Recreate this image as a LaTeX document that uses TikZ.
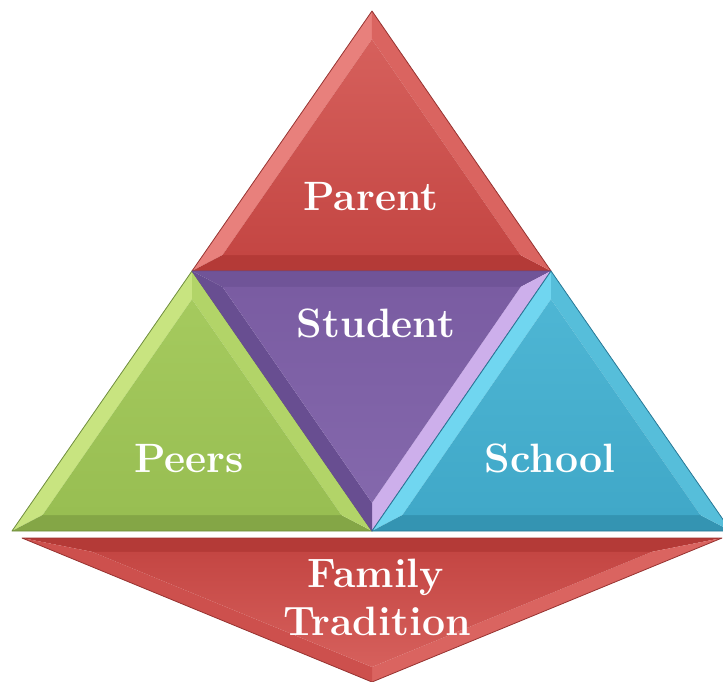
\documentclass[tikz,border=0pt]{standalone}
\usetikzlibrary{calc}
\definecolor{redbase}{RGB}{205,80,77}
\definecolor{redtop}{RGB}{214,96,92}
\definecolor{redbot}{RGB}{196,70,67}
\definecolor{redlight}{RGB}{232,128,124}
\definecolor{redmid}{RGB}{218,100,96}
\definecolor{reddark}{RGB}{180,58,55}
\definecolor{redline}{RGB}{150,50,48}
\definecolor{purtop}{RGB}{122,92,162}
\definecolor{purbot}{RGB}{132,104,172}
\definecolor{purlight}{RGB}{205,175,235}
\definecolor{purmid}{RGB}{112,84,152}
\definecolor{purdark}{RGB}{104,78,145}
\definecolor{grntop}{RGB}{165,202,94}
\definecolor{grnbot}{RGB}{152,190,82}
\definecolor{grnlight}{RGB}{200,228,128}
\definecolor{grnmid}{RGB}{178,212,104}
\definecolor{grndark}{RGB}{132,166,70}
\definecolor{grnline}{RGB}{110,140,60}
\definecolor{blutop}{RGB}{78,182,212}
\definecolor{blubot}{RGB}{64,168,200}
\definecolor{blulight}{RGB}{112,214,240}
\definecolor{blumid}{RGB}{86,190,218}
\definecolor{bludark}{RGB}{52,148,178}
\definecolor{bluline}{RGB}{40,120,150}
\tikzset{
  label text/.style={text=white, font=\fontsize{41}{48}\selectfont\bfseries, inner sep=0pt},
  rim/.style={draw=#1, line width=0.8pt, line join=round}
}
% #1,#2,#3 vertices; #4 incenter; #5 inner top colour; #6 inner bottom colour;
% #7 facet 1-2; #8 facet 2-3; #9 facet 3-1
\newcommand\bevtri[9]{%
  \coordinate (i1) at ($(#4)!\bk!(#1)$);
  \coordinate (i2) at ($(#4)!\bk!(#2)$);
  \coordinate (i3) at ($(#4)!\bk!(#3)$);
  \fill[#7] (#1) -- (#2) -- (i2) -- (i1) -- cycle;
  \fill[#8] (#2) -- (#3) -- (i3) -- (i2) -- cycle;
  \fill[#9] (#3) -- (#1) -- (i1) -- (i3) -- cycle;
  \path[top color=#5, bottom color=#6] (i1) -- (i2) -- (i3) -- cycle;
}
\begin{document}
\begin{tikzpicture}[x=1pt,y=-1pt]
\useasboundingbox (0,0) rectangle (723,681);
\clip (0,0) rectangle (723,681);
% vertices
\coordinate (top) at (372,11);
\coordinate (ml) at (192,271);
\coordinate (mr) at (551,271);
\coordinate (bl) at (12,531);
\coordinate (bm) at (372,531);
\coordinate (br) at (731,531);
\coordinate (fl) at (22,538);
\coordinate (fr) at (722,538);
\coordinate (fb) at (372,682);
% incentres
\coordinate (Ipar) at (371.5,177);
\coordinate (Ipee) at (192,437);
\coordinate (Istu) at (372,365);
\coordinate (Isch) at (551,437);
\coordinate (Ifam) at (372,607);
\def\bk{0.83}
% Parent
\bevtri{top}{ml}{mr}{Ipar}{redtop}{redbot}{redlight}{reddark}{redmid}
\draw[rim=redline] (top) -- (ml) -- (mr) -- cycle;
% Peers
\bevtri{ml}{bl}{bm}{Ipee}{grntop}{grnbot}{grnlight}{grndark}{grnmid}
\draw[rim=grnline] (ml) -- (bl) -- (bm) -- cycle;
% Student
\bevtri{ml}{mr}{bm}{Istu}{purtop}{purbot}{purmid}{purlight}{purdark}
\draw[rim=purdark] (ml) -- (mr) -- (bm) -- cycle;
% School
\bevtri{mr}{bm}{br}{Isch}{blutop}{blubot}{blulight}{bludark}{blumid}
\draw[rim=bluline] (mr) -- (bm) -- (br) -- cycle;
% Family Tradition
\def\bk{0.8}
\bevtri{fl}{fr}{fb}{Ifam}{redbot}{redtop}{reddark}{redmid}{redbase}
\draw[rim=redline] (fl) -- (fr) -- (fb) -- cycle;
% labels
\node[label text, anchor=base] (parent) at (371,210) {Parent};
\node[label text, anchor=base] (student) at (376,337) {Student};
\node[label text, anchor=base] (peers) at (189,472) {Peers};
\node[label text, anchor=base] (school) at (550,472) {School};
\node[label text, anchor=base] (family) at (376,587) {Family};
\node[label text, anchor=base] (tradition) at (377,635) {Tradition};
\end{tikzpicture}
\end{document}
